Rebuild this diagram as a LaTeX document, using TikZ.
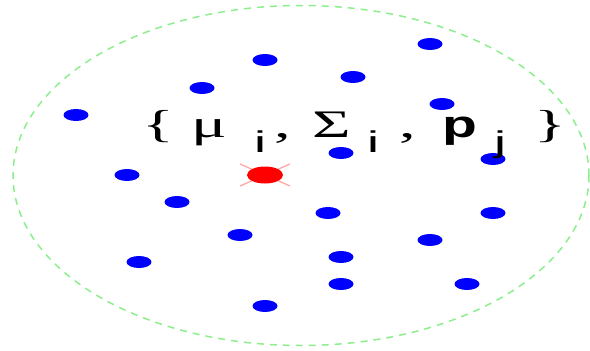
\documentclass[tikz,border=0pt]{standalone}
\usepackage{fontspec}
\setmainfont{Liberation Sans}
\newfontfamily\widesans[FakeStretch=1.8]{Liberation Sans}
\newfontfamily\boldsans[FakeStretch=1.5]{Liberation Sans Bold}
\newfontfamily\wideserif[FakeStretch=1.7]{Liberation Serif}
\usetikzlibrary{shapes.geometric}

\definecolor{bndgreen}{RGB}{140,238,140}

% fixed-width slot, so every token of the label lands where it should
\newcommand{\slot}[2]{\makebox[#1][l]{#2}}
\newcommand{\low}[1]{\raisebox{-15pt}{\widesans\fontsize{30}{30}\selectfont #1}}

\begin{document}
\begin{tikzpicture}[
  x=1pt, y=-1pt,
  obs/.style={ellipse, fill=blue, inner sep=0pt, minimum width=25pt, minimum height=12pt},
  ctr/.style={ellipse, fill=red, inner sep=0pt, minimum width=36pt, minimum height=17pt},
  cross/.style={red!35, line width=1.3pt},
  bound/.style={bndgreen, line width=1.5pt, dash pattern=on 7pt off 6pt},
  lbl/.style={inner sep=0pt, anchor=base west, font=\wideserif\fontsize{39}{39}\selectfont}
]
\useasboundingbox (0,0) rectangle (590,351);

\draw[bound] (301,175.5) ellipse [x radius=288pt, y radius=170pt];

% samples
\node[obs] (s1)  at (430,44)  {};
\node[obs] (s2)  at (265,60)  {};
\node[obs] (s3)  at (353,77)  {};
\node[obs] (s4)  at (202,88)  {};
\node[obs] (s5)  at (442,104) {};
\node[obs] (s6)  at (76,115)  {};
\node[obs] (s7)  at (341,153) {};
\node[obs] (s8)  at (493,159) {};
\node[obs] (s9)  at (127,175) {};
\node[obs] (s10) at (177,202) {};
\node[obs] (s11) at (328,213) {};
\node[obs] (s12) at (493,213) {};
\node[obs] (s13) at (240,235) {};
\node[obs] (s14) at (430,240) {};
\node[obs] (s15) at (341,257) {};
\node[obs] (s16) at (139,262) {};
\node[obs] (s17) at (341,284) {};
\node[obs] (s18) at (467,284) {};
\node[obs] (s19) at (265,306) {};

% centre
\coordinate (m) at (265,175);
\draw[cross] (m) ++(-25,-11) -- ++(50,22);
\draw[cross] (m) ++(25,-11) -- ++(-50,22);
\node[ctr] (mu) at (m) {};

\node[lbl] (par) at (142,137)
  {\slot{49pt}{\{}\slot{63pt}{μ}\slot{20pt}{\low{i}}\slot{38pt}{,}%
   \slot{55pt}{Σ}\slot{32pt}{\low{i}}\slot{43pt}{,}%
   \slot{52pt}{\boldsans\fontsize{38}{38}\selectfont p}%
   \slot{40pt}{\low{j}}\}};
\end{tikzpicture}
\end{document}
